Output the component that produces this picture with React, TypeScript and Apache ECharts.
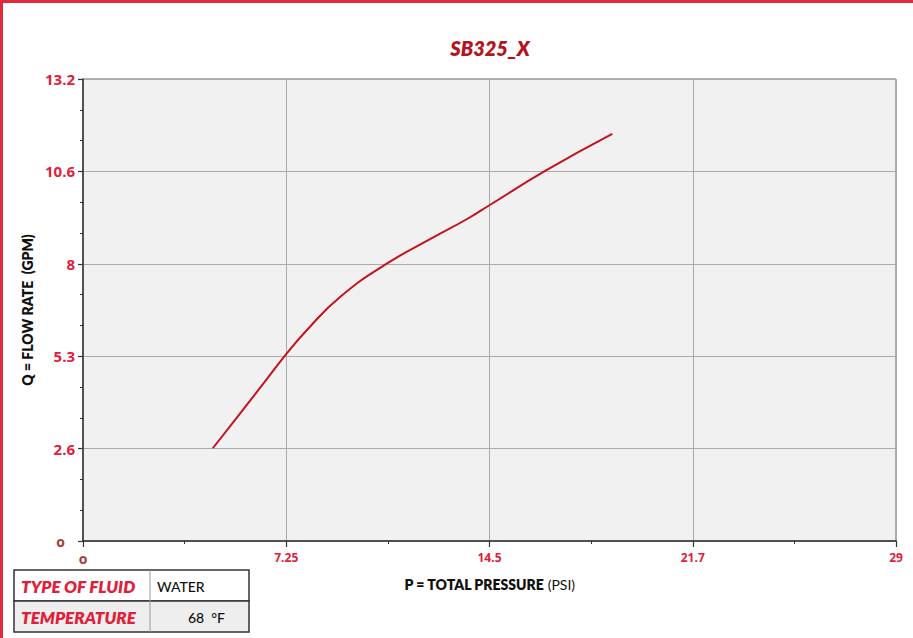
import React, { useEffect, useRef } from "react";
import * as echarts from "echarts";

const pressure = [4.63, 5.6, 6.32, 7.27, 7.99, 9.18, 10.85, 12.51, 13.7, 14.51, 16.5, 18.88];
const flow = [2.65, 3.64, 4.38, 5.36, 6.03, 6.98, 7.93, 8.68, 9.2, 9.6, 10.58, 11.63];
const xTickLabels = ["o", "7.25", "14.5", "21.7", "29"];
const yTickLabels = ["o", "2.6", "5.3", "8", "10.6", "13.2"];
const fluidRows = [
  ["TYPE OF FLUID", "WATER"],
  ["TEMPERATURE", "68  °F"],
];

const RED = "#e0203a";
const FONT = "Lato, 'Open Sans', sans-serif";
const LABEL_FONT = "'Open Sans', Lato, sans-serif";

export default function App() {
  const ref = useRef<HTMLDivElement>(null);
  useEffect(() => {
    if (!ref.current) return;
    const chart = echarts.init(ref.current, undefined, { renderer: "svg" });
    const data = pressure.map((p, i) => [p, flow[i]]);
    const tableGraphics: any[] = [];
    const tx = 14, ty = 570, tw = 235, rh = 31, cx = 150;
    fluidRows.forEach((row, i) => {
      tableGraphics.push({
        type: "rect",
        shape: { x: tx, y: ty + i * rh, width: tw, height: rh },
        style: { fill: i === 0 ? "#ffffff" : "#eeeeee", stroke: "#333", lineWidth: 1.5 },
      });
      tableGraphics.push({
        type: "text",
        x: tx + 7,
        y: ty + i * rh + rh / 2 + 1,
        style: {
          text: row[0],
          fill: RED,
          font: `italic 800 17px ${FONT}`,
          verticalAlign: "middle",
        },
      });
      tableGraphics.push({
        type: "text",
        x: i === 0 ? cx + 7 : cx + 38,
        y: ty + i * rh + rh / 2 + 1,
        style: {
          text: row[1],
          fill: "#111",
          font: `500 14px ${FONT}`,
          verticalAlign: "middle",
        },
      });
    });
    tableGraphics.push({
      type: "line",
      shape: { x1: cx, y1: ty, x2: cx, y2: ty + 2 * rh },
      style: { stroke: "#999", lineWidth: 1 },
    });

    chart.setOption({
      animation: false,
      backgroundColor: "#ffffff",
      grid: {
        left: 83,
        right: 17,
        top: 79,
        bottom: 97,
        show: true,
        backgroundColor: "#f1f1f1",
        borderColor: "#666",
        borderWidth: 1,
      },
      xAxis: {
        type: "value",
        min: 0,
        max: 29,
        interval: 7.25,
        name: "{b|P = TOTAL PRESSURE} {n|(PSI)}",
        nameLocation: "middle",
        nameGap: 36,
        nameTextStyle: {
          rich: {
            b: { fontFamily: FONT, fontWeight: 800, fontSize: 14, color: "#111" },
            n: { fontFamily: FONT, fontWeight: 400, fontSize: 14, color: "#111" },
          },
        },
        axisLine: { show: true, lineStyle: { color: "#333", width: 1.5 } },
        axisTick: { show: true, length: 6, lineStyle: { color: "#333", width: 1.2 } },
        minorTick: { show: true, splitNumber: 2, length: 3, lineStyle: { color: "#333" } },
        splitLine: { show: true, lineStyle: { color: "#aaa", width: 1 } },
        axisLabel: {
          margin: 10,
          formatter: (v: number) => {
            const i = Math.round(v / 7.25);
            return i === 0 ? "{z|" + xTickLabels[i] + "}" : xTickLabels[i];
          },
          color: RED,
          fontFamily: LABEL_FONT,
          fontWeight: 700,
          fontSize: 12,
          rich: { z: { color: "#a83a3a", fontSize: 14, fontWeight: 700, fontFamily: LABEL_FONT } },
        },
      },
      yAxis: {
        type: "value",
        min: 0,
        max: 13.2,
        interval: 2.64,
        name: "Q = FLOW RATE  (GPM)",
        nameLocation: "middle",
        nameGap: 44,
        nameTextStyle: { fontFamily: FONT, fontWeight: 800, fontSize: 14, color: "#111" },
        axisLine: { show: true, lineStyle: { color: "#333", width: 1.5 } },
        axisTick: { show: true, length: 5, lineStyle: { color: "#333", width: 1.2 } },
        minorTick: { show: true, splitNumber: 3, length: 3, lineStyle: { color: "#333" } },
        splitLine: { show: true, lineStyle: { color: "#aaa", width: 1 } },
        axisLabel: {
          margin: 8,
          formatter: (v: number) => {
            const i = Math.round(v / 2.64);
            return i === 0 ? "{z|" + yTickLabels[i] + "}" : yTickLabels[i];
          },
          color: RED,
          fontFamily: LABEL_FONT,
          fontWeight: 700,
          fontSize: 15,
          rich: {
            z: {
              color: "#a83a3a",
              fontSize: 14,
              fontWeight: 700,
              fontFamily: LABEL_FONT,
              padding: [0, 10, 0, 0],
            },
          },
        },
      },
      graphic: [
        {
          type: "line",
          shape: { x1: 0, y1: 1.5, x2: 913, y2: 1.5 },
          style: { stroke: "#e02a3c", lineWidth: 3 },
        },
        {
          type: "line",
          shape: { x1: 1.5, y1: 0, x2: 1.5, y2: 638 },
          style: { stroke: "#e02a3c", lineWidth: 3 },
        },
        {
          type: "text",
          x: 490,
          y: 48,
          style: {
            text: "SB325_X",
            fill: "#b4141e",
            font: `italic 800 20px ${FONT}`,
            align: "center",
            verticalAlign: "middle",
          },
        },
        ...tableGraphics,
      ],
      series: [
        {
          type: "line",
          data,
          smooth: 0.5,
          showSymbol: false,
          lineStyle: { color: "#c4121f", width: 2 },
        },
      ],
    });
    return () => chart.dispose();
  }, []);
  return (
    <div
      ref={ref}
      style={{ position: "fixed", left: 0, top: 0, width: 913, height: 638 }}
    />
  );
}
